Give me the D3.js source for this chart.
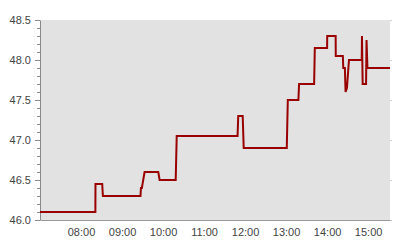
<!DOCTYPE html>
<html>
<head>
<meta charset="utf-8">
<script src="https://cdn.jsdelivr.net/npm/d3@7"></script>
<style>
  body { margin:0; background:#fff; }
  svg text { font-family: "Liberation Sans", Arial, sans-serif; }
</style>
</head>
<body>
<svg></svg>
<script>
// price steps through the day
var times=["07:00:00","08:21:00","08:21:10","08:31:00","08:32:00","09:27:00","09:27:40","09:29:00","09:33:00","09:53:00","09:55:00",
  "10:18:30","10:20:00","11:49:00","11:50:00","11:56:30","11:58:00","13:01:00","13:02:30","13:18:00","13:19:00","13:41:00","13:42:00",
  "14:00:00","14:00:10","14:12:30","14:12:40","14:23:00","14:23:40","14:26:00","14:27:00","14:29:00","14:32:00","14:50:40","14:51:00",
  "14:52:00","14:57:00","14:57:40","14:59:00","15:32:00"];
var values=[46.1,46.1,46.45,46.45,46.3,46.3,46.4,46.4,46.6,46.6,46.5,
  46.5,47.05,47.05,47.3,47.3,46.9,46.9,47.5,47.5,47.7,47.7,48.15,
  48.15,48.3,48.3,48.05,48.05,47.9,47.9,47.6,47.65,48.0,48.0,48.3,
  47.7,47.7,48.25,47.9,47.9];
var yTicks=[46.0,46.5,47.0,47.5,48.0,48.5];
var xTicks=["08:00","09:00","10:00","11:00","12:00","13:00","14:00","15:00"];

var parseT=d3.timeParse("%H:%M:%S");
var parseH=d3.timeParse("%H:%M");
var data=times.map(function(t,i){ return {t:parseT(t), v:values[i]}; });

var scren={width:400,height:240};
var margins={top:20,bottom:20,left:40,right:10};
var svg=d3.select("svg").attr("width",scren.width).attr("height",scren.height);

var xScale=d3.scaleTime()
  .domain([parseH("07:00"),parseH("15:32")])
  .range([margins.left,scren.width-margins.right]);
var yScale=d3.scaleLinear()
  .domain([46,48.5])
  .range([scren.height-margins.bottom,margins.top]);

// background
svg.append("rect")
  .attr("x",margins.left).attr("y",margins.top)
  .attr("width",scren.width-margins.left-margins.right)
  .attr("height",scren.height-margins.top-margins.bottom)
  .attr("fill","#e2e2e2");

// little ticks on the right edge
svg.selectAll(".rt").data(yTicks).enter().append("line")
  .attr("x1",scren.width-margins.right).attr("x2",scren.width-margins.right+2)
  .attr("y1",function(d){return yScale(d)+0.5;}).attr("y2",function(d){return yScale(d)+0.5;})
  .attr("stroke","#d4d4d4");

// minor y ticks
var minor=d3.range(46,48.5001,0.1);
svg.append("g")
  .attr("transform","translate("+margins.left+",0)")
  .call(d3.axisLeft(yScale).tickValues(minor).tickSize(3).tickFormat(""))
  .call(function(g){ g.select(".domain").remove(); g.selectAll("line").attr("stroke","#888"); });

var yAxis=svg.append("g")
  .attr("transform","translate("+margins.left+",0)")
  .call(d3.axisLeft(yScale).tickValues(yTicks).tickSize(5).tickSizeOuter(0).tickPadding(4).tickFormat(d3.format(".1f")));
yAxis.select(".domain").attr("stroke","#888");
yAxis.selectAll("line").attr("stroke","#888");
yAxis.selectAll("text").attr("fill","#444").attr("font-size","11px").attr("dy","0.32em");

var xAxis=svg.append("g")
  .attr("transform","translate(0,"+(scren.height-margins.bottom)+")")
  .call(d3.axisBottom(xScale).tickValues(xTicks.map(parseH)).tickSize(0).tickSizeOuter(0).tickPadding(8).tickFormat(d3.timeFormat("%H:%M")));
xAxis.select(".domain").attr("stroke","#999");
xAxis.selectAll("text").attr("fill","#444").attr("font-size","11px");

var line=d3.line()
  .x(function(d){return xScale(d.t);})
  .y(function(d){return yScale(d.v);});

svg.append("path")
  .datum(data)
  .attr("d",line)
  .attr("fill","none")
  .attr("stroke","#990000")
  .attr("stroke-width",2)
  .attr("stroke-linejoin","miter");
</script>
</body>
</html>
